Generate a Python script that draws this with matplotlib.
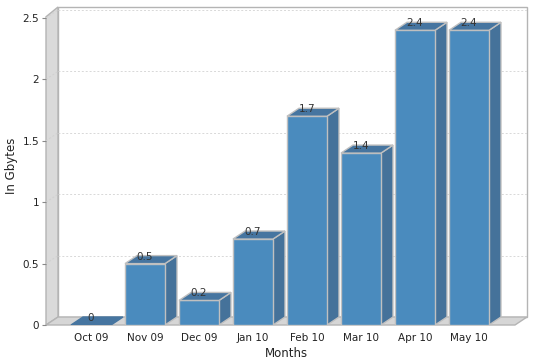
import matplotlib
matplotlib.use("Agg")
import matplotlib.pyplot as plt
from matplotlib.patches import Polygon

months = ["Oct 09", "Nov 09", "Dec 09", "Jan 10", "Feb 10", "Mar 10", "Apr 10", "May 10"]
values = [0, 0.5, 0.2, 0.7, 1.7, 1.4, 2.4, 2.4]
yticks = [0, 0.5, 1, 1.5, 2, 2.5]
ytick_labels = ["0", "0.5", "1", "1.5", "2", "2.5"]

W, H = 534, 359
fig = plt.figure(figsize=(W / 100, H / 100), dpi=100)

SLOT = 54.0      # px per category
UNIT = 122.8     # px per value unit
left_px, right_px, bot_px, top_px = 46, 527, 325, 6
ax = fig.add_axes([left_px / W, (H - bot_px) / H, (right_px - left_px) / W, (bot_px - top_px) / H])
x0 = -0.5 - 18 / SLOT
x1 = x0 + (right_px - left_px) / SLOT
ax.set_xlim(x0, x1)
ax.set_ylim(0, (bot_px - top_px) / UNIT)
for s in ax.spines.values():
    s.set_visible(False)

DX = 12 / SLOT
DY = 8 / UNIT
xfr = x1 - DX          # front right edge
ytop_front = 2.51
ytop_back = (bot_px - 7) / UNIT

wall_edge = "#b4b4b4"
# back wall
ax.add_patch(Polygon([(x0 + DX, DY), (x1, DY), (x1, ytop_back), (x0 + DX, ytop_back)],
                     closed=True, facecolor="white", edgecolor=wall_edge, lw=1, zorder=1, clip_on=False))
# left wall
ax.add_patch(Polygon([(x0, 0), (x0 + DX, DY), (x0 + DX, ytop_back), (x0, ytop_front)],
                     closed=True, facecolor="#dadada", edgecolor=wall_edge, lw=1, zorder=1, clip_on=False))
# floor
ax.add_patch(Polygon([(x0, 0), (xfr, 0), (x1, DY), (x0 + DX, DY)],
                     closed=True, facecolor="#d6d6d6", edgecolor=wall_edge, lw=1, zorder=1, clip_on=False))

# gridlines
for v in yticks[1:]:
    ax.plot([x0 + DX, x1], [v + DY, v + DY], color="#d8d8d8", lw=0.7, ls=(0, (2, 2)), zorder=1.5)
    ax.plot([x0, x0 + DX], [v, v + DY], color="#d0d0d0", lw=0.7, ls=(0, (2, 2)), zorder=1.5)

# bars
bw = 40 / SLOT
front_c = "#4a8bbe"
side_c = "#45729a"
top_c = "#4675a0"
edge_c = "#c0c0c0"
for i, v in enumerate(values):
    l, r = i - bw / 2, i + bw / 2
    if v > 0:
        ax.add_patch(Polygon([(r, 0), (r + DX, DY), (r + DX, v + DY), (r, v)], closed=True,
                             facecolor=side_c, edgecolor=edge_c, lw=1, zorder=3))
        ax.add_patch(Polygon([(l, 0), (r, 0), (r, v), (l, v)], closed=True,
                             facecolor=front_c, edgecolor=edge_c, lw=1, zorder=3))
    ax.add_patch(Polygon([(l, v), (r, v), (r + DX, v + DY), (l + DX, v + DY)], closed=True,
                         facecolor=top_c, edgecolor=edge_c if v > 0 else top_c, lw=1, zorder=3))
    ax.text(i, v + 2 / UNIT, f"{v:g}", ha="center", va="bottom", fontsize=7.5, color="#333333", zorder=5)

ax.set_yticks(yticks)
ax.set_yticklabels(ytick_labels)
ax.set_xticks(range(len(months)))
ax.set_xticklabels(months)
ax.tick_params(axis="y", length=3, width=0.8, color="#888888", labelsize=7.5, pad=2, labelcolor="#222222")
ax.tick_params(axis="x", length=0, labelsize=7.5, pad=6, labelcolor="#222222")
ax.set_ylabel("In Gbytes", fontsize=8.5, color="#222222", labelpad=3)
ax.set_xlabel("Months", fontsize=8.5, color="#222222", labelpad=2.5)

fig.savefig("out.png", dpi=100)
